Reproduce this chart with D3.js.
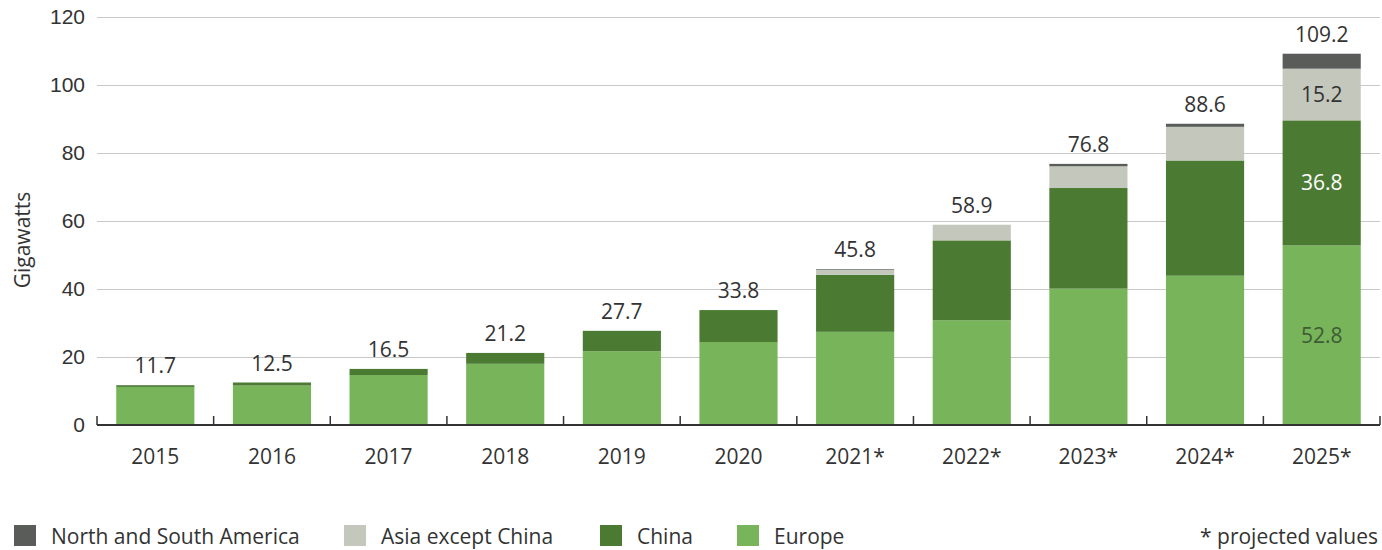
<!DOCTYPE html>
<html>
<head>
<meta charset="utf-8">
<script src="https://cdn.jsdelivr.net/npm/d3@7"></script>
<style>
  body { margin: 0; background: #fff; }
  svg { font-family: "Open Sans", "Noto Sans", sans-serif; }
</style>
</head>
<body>
<div id="chart"></div>
<script>
// data
var years = ["2015", "2016", "2017", "2018", "2019", "2020", "2021*", "2022*", "2023*", "2024*", "2025*"];
var europe   = [11.2, 11.6, 14.7, 18.0, 21.7, 24.4, 27.4, 30.8, 40.1, 43.9, 52.8];
var china    = [0.5, 0.9, 1.8, 3.2, 6.0, 9.4, 16.8, 23.5, 29.6, 33.9, 36.8];
var asia     = [0, 0, 0, 0, 0, 0, 1.4, 4.6, 6.4, 9.9, 15.2];
var americas = [0, 0, 0, 0, 0, 0, 0.2, 0, 0.7, 0.9, 4.4];
var totals   = [11.7, 12.5, 16.5, 21.2, 27.7, 33.8, 45.8, 58.9, 76.8, 88.6, 109.2];
var yTicks = [0, 20, 40, 60, 80, 100, 120];

var seriesKeys = ["europe", "china", "asia", "americas"];
var seriesNames = { americas: "North and South America", asia: "Asia except China", china: "China", europe: "Europe" };
var colors = { europe: "#78b459", china: "#4b7b33", asia: "#c4c8bc", americas: "#595c59" };

var fs = "21px";

var margin = { top: 17, right: 2, bottom: 125, left: 97 },
  width = 1382 - margin.left - margin.right,
  height = 550 - margin.top - margin.bottom;

var table = years.map(function(y, i) {
  return { year: y, europe: europe[i], china: china[i], asia: asia[i], americas: americas[i], total: totals[i] };
});

var svg = d3.select("#chart").append("svg")
  .attr("width", 1382)
  .attr("height", 550);

var g = svg.append("g").attr("transform", "translate(" + margin.left + "," + margin.top + ")");

var x = d3.scaleBand().domain(years).range([0, width]).paddingInner(0.33).paddingOuter(0.165);
var y = d3.scaleLinear().domain([0, 120]).range([height, 0]);

// gridlines + y labels
var yAxis = g.append("g")
  .call(d3.axisLeft(y).tickValues(yTicks).tickSize(-width).tickPadding(12));
yAxis.select(".domain").remove();
yAxis.selectAll(".tick line").attr("stroke", "#c8c8c8").attr("stroke-width", 1);
yAxis.selectAll(".tick text").attr("fill", "#333").style("font-size", fs);
yAxis.selectAll(".tick").filter(function(d) { return d === 0; }).select("line").remove();

svg.append("text")
  .attr("transform", "translate(30,240) rotate(-90)")
  .attr("text-anchor", "middle")
  .attr("fill", "#333")
  .style("font-size", fs)
  .text("Gigawatts");

// stacked bars
var stack = d3.stack().keys(seriesKeys)(table);

g.selectAll(".layer")
  .data(stack)
  .enter().append("g")
  .attr("fill", function(d) { return colors[d.key]; })
  .selectAll("rect")
  .data(function(d) { return d; })
  .enter().append("rect")
  .attr("x", function(d) { return x(d.data.year); })
  .attr("width", x.bandwidth())
  .attr("y", function(d) { return y(d[1]); })
  .attr("height", function(d) { return y(d[0]) - y(d[1]); });

// x axis with ticks between categories
var xAxis = g.append("g").attr("transform", "translate(0," + height + ")");
xAxis.append("line")
  .attr("x1", 0).attr("x2", width)
  .attr("stroke", "#333").attr("stroke-width", 2);
var step = x.step();
var gap = (step - x.bandwidth()) / 2;
xAxis.selectAll(".sep")
  .data(d3.range(years.length + 1))
  .enter().append("line")
  .attr("x1", function(i) { return x(years[0]) - gap + i * step; })
  .attr("x2", function(i) { return x(years[0]) - gap + i * step; })
  .attr("y1", 0).attr("y2", -9)
  .attr("stroke", "#333").attr("stroke-width", 1.5);
xAxis.selectAll(".xl")
  .data(years)
  .enter().append("text")
  .attr("x", function(d) { return x(d) + x.bandwidth() / 2; })
  .attr("y", 39)
  .attr("text-anchor", "middle")
  .attr("fill", "#333")
  .style("font-size", fs)
  .text(function(d) { return d; });

// total labels
g.selectAll(".total")
  .data(table)
  .enter().append("text")
  .attr("x", function(d) { return x(d.year) + x.bandwidth() / 2; })
  .attr("y", function(d) { return y(d.total) - 12; })
  .attr("text-anchor", "middle")
  .attr("fill", "#333")
  .style("font-size", fs)
  .text(function(d) { return d3.format(".1f")(d.total); });

// segment labels on the last bar
var last = table[table.length - 1];
var inner = [
  { key: "europe", lo: 0, hi: last.europe, color: "#3e5c35" },
  { key: "china", lo: last.europe, hi: last.europe + last.china, color: "#ffffff" },
  { key: "asia", lo: last.europe + last.china, hi: last.europe + last.china + last.asia, color: "#333" }
];
g.selectAll(".inner")
  .data(inner)
  .enter().append("text")
  .attr("x", x(last.year) + x.bandwidth() / 2)
  .attr("y", function(d) { return y((d.lo + d.hi) / 2); })
  .attr("dy", "0.35em")
  .attr("text-anchor", "middle")
  .attr("fill", function(d) { return d.color; })
  .style("font-size", fs)
  .text(function(d) { return d3.format(".1f")(last[d.key]); });

// legend
var legendItems = [
  { key: "americas", x: 14 },
  { key: "asia", x: 344 },
  { key: "china", x: 600 },
  { key: "europe", x: 737 }
];
var legend = svg.selectAll(".legend")
  .data(legendItems)
  .enter().append("g")
  .attr("transform", function(d) { return "translate(" + d.x + ",525)"; });
legend.append("rect")
  .attr("width", 22).attr("height", 21)
  .attr("fill", function(d) { return colors[d.key]; });
legend.append("text")
  .attr("x", 37).attr("y", 19)
  .attr("fill", "#333")
  .style("font-size", fs)
  .text(function(d) { return seriesNames[d.key]; });

svg.append("text")
  .attr("x", 1378).attr("y", 544)
  .attr("text-anchor", "end")
  .attr("fill", "#333")
  .style("font-size", fs)
  .text("* projected values");
</script>
</body>
</html>
